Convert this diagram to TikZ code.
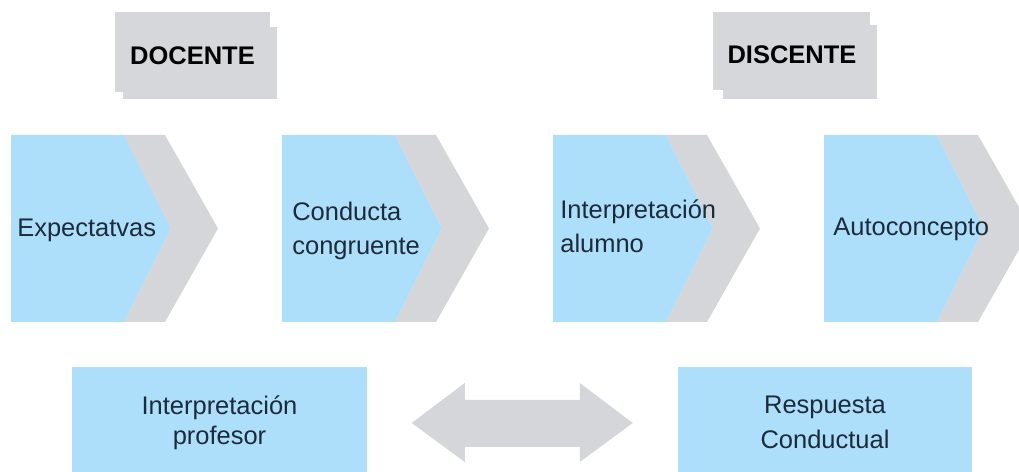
\documentclass[tikz,border=0pt]{standalone}
\usepackage{fontspec}
\setmainfont{Liberation Sans}
\usepackage{xcolor}
\usepackage{tikz}
\usetikzlibrary{calc}
\definecolor{boxblue}{HTML}{AEDFFA}
\definecolor{chevgray}{HTML}{D5D6DA}
\definecolor{tabgray}{HTML}{D6D7DB}
\definecolor{ink}{HTML}{1C2B3C}
\tikzset{
  chev/.style={fill=chevgray},
  blueshape/.style={fill=boxblue},
  tab/.style={fill=tabgray},
  lab/.style={text=ink, inner sep=0pt, font=\fontsize{14.5}{19.8}\selectfont},
  head/.style={text=black, inner sep=0pt, font=\bfseries\fontsize{14.5}{17}\selectfont},
  bottombox/.style={fill=boxblue, text=ink, align=center, minimum width=5.9cm, minimum height=2.22cm},
}

\begin{document}
\begin{tikzpicture}[x=0.02cm, y=-0.02cm]
  \useasboundingbox (0,0) rectangle (1019,472);
  % header tabs
  \fill[tab] (123,27) rectangle (277,99);
  \fill[tab] (115,12) rectangle (270,92);
  \node[head] (docente) at (192.5,55.5) {DOCENTE};
  \fill[tab] (723,25) rectangle (877,99);
  \fill[tab] (713,12) rectangle (870,90);
  \node[head] (discente) at (792,55) {DISCENTE};
  % chevron steps
  \fill[chev] (124,135) -- (165,135) -- (218,228.5) -- (165,322) -- (124,322) -- (171,228.5) -- cycle;
  \fill[blueshape] (11,135) -- (124,135) -- (171,228.5) -- (124,322) -- (11,322) -- cycle;
  \fill[chev,shift={(271,0)}] (124,135) -- (165,135) -- (218,228.5) -- (165,322) -- (124,322) -- (171,228.5) -- cycle;
  \fill[blueshape,shift={(271,0)}] (11,135) -- (124,135) -- (171,228.5) -- (124,322) -- (11,322) -- cycle;
  \fill[chev,shift={(542,0)}] (124,135) -- (165,135) -- (218,228.5) -- (165,322) -- (124,322) -- (171,228.5) -- cycle;
  \fill[blueshape,shift={(542,0)}] (11,135) -- (124,135) -- (171,228.5) -- (124,322) -- (11,322) -- cycle;
  \fill[chev,shift={(813,0)}] (124,135) -- (165,135) -- (218,228.5) -- (165,322) -- (124,322) -- (171,228.5) -- cycle;
  \fill[blueshape,shift={(813,0)}] (11,135) -- (124,135) -- (171,228.5) -- (124,322) -- (11,322) -- cycle;
  % base of a two-line label is its last line
  \node[lab,anchor=base west] (expect) at (17,237) {Expectatvas};
  \node[lab,anchor=base west,align=left] (conduct) at (292,255) {Conducta\\congruente};
  \node[lab,anchor=base west,align=left] (alumno) at (560,253) {Interpretación\\alumno};
  \node[lab,anchor=base west] (autoc) at (833,236) {Autoconcepto};
  % bottom boxes
  \node[bottombox,font=\fontsize{14.5}{17}\selectfont] (profbox) at (219.5,422.5) {Interpretación\\profesor};
  \node[bottombox,font=\fontsize{14.5}{19.8}\selectfont] (respbox) at (825,422.5) {Respuesta\\Conductual};
  % two-way arrow
  \coordinate (mid) at ($(profbox.east)!0.5!(respbox.west)+(0,0.5)$);
  \fill[chev] (mid) ++(-110.5,0) -- ++(53,-40) -- ++(0,17) -- ++(115,0) -- ++(0,-17) -- ++(53,40)
    -- ++(-53,39) -- ++(0,-15) -- ++(-115,0) -- ++(0,15) -- cycle;
\end{tikzpicture}
\end{document}
